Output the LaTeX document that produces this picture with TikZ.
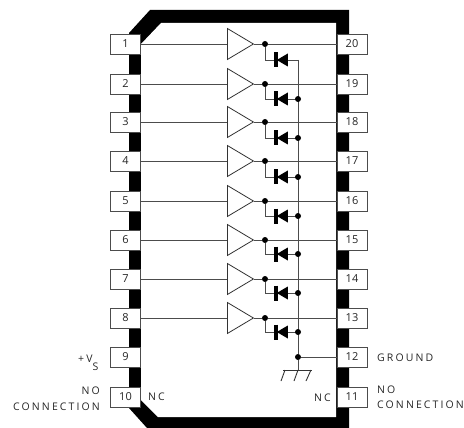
\documentclass[tikz,border=0pt]{standalone}
\usepackage{fontspec}
\setmainfont{Open Sans}
\usetikzlibrary{shapes.geometric}
\definecolor{ln}{gray}{0.3}
\tikzset{
  pinbox/.style={draw=ln,line width=0.9pt,fill=white,minimum width=30pt,minimum height=20pt,inner sep=0pt,font=\fontsize{11}{11}\selectfont,text=black!85},
  buf/.style={draw=black!80,line width=0.8pt,isosceles triangle,isosceles triangle apex angle=60,isosceles triangle stretches,minimum width=31pt,minimum height=26pt,inner sep=0pt,fill=white,anchor=lower side},
  dot/.style={circle,fill=black,inner sep=0pt,minimum size=6pt},
  wire/.style={draw=ln,line width=0.9pt},
  dtri/.style={isosceles triangle,isosceles triangle stretches,shape border rotate=180,fill=black,inner sep=0pt,minimum width=13pt,minimum height=11pt,anchor=lower side},
  lbl/.style={font=\fontsize{10.5}{12}\selectfont\addfontfeatures{LetterSpace=20},text=black!85,inner sep=0pt},
}
\begin{document}
\begin{tikzpicture}[x=1pt,y=-1pt]
\useasboundingbox (0,0) rectangle (464,428);
% package body band
\fill[black] (129,33) -- (150,10) -- (349,10) -- (349,428) -- (147,428) -- (129,408) -- cycle;
\fill[white] (141,44) -- (161,23) -- (336,23) -- (336,417) -- (158,417) -- (141,400) -- cycle;
% pins
\foreach \n/\y in {1/44,2/84,3/122,4/161,5/201,6/240,7/279,8/318,9/357,10/397}
  \node[pinbox] (p\n) at (125.5,\y) {\n};
\foreach \n/\y in {20/44,19/84,18/122,17/161,16/201,15/240,14/279,13/318,12/357,11/397}
  \node[pinbox] (p\n) at (352,\y) {\n};
% common rail
\coordinate (railtop) at (298,60);
\node[dot] (dg) at (298,357) {};
\coordinate (gnd) at (298,370);
\draw[wire] (railtop) -- (dg) -- (gnd);
\draw[wire] (dg) -- (p12.west);
% channels
\foreach \n/\o/\y/\yd in {1/20/44/60,2/19/84/99,3/18/122/138,4/17/161/177,5/16/201/216,6/15/240/254,7/14/279/293,8/13/318/332}{
  \node[buf] (b\n) at (227,\y) {};
  \node[dot] (d\n) at (265,\y) {};
  \coordinate (c\n) at (265,\yd);
  \coordinate (r\n) at (298,\yd);
  \draw[wire] (p\n.east) -- (b\n.lower side);
  \draw[wire] (b\n.apex) -- (d\n) -- (p\o.west);
  \draw[wire] (d\n) -- (c\n) -- (r\n);
  \node[dtri] (t\n) at (288,\yd) {};
  \draw[black,line width=4pt] (276,\yd-7.5) -- (276,\yd+7.5);
}
\foreach \n in {2,...,8} \node[dot] (j\n) at (r\n) {};
% ground symbol
\draw[black!80,line width=0.9pt] (283,370) -- (312,370);
\draw[black!80,line width=0.9pt] (285,370) -- (281,381) (298,370) -- (294,381) (311,370) -- (306,381);
% labels
\node[lbl,anchor=base west] (vs) at (78,362.5) {+V\raisebox{-7.5pt}{S}};
\node[lbl,anchor=east] (nl1) at (100,391) {NO};
\node[lbl,anchor=east] (nl2) at (100,407) {CONNECTION};
\node[lbl,anchor=west] (nc1) at (148,397) {NC};
\node[lbl,anchor=east] (nc2) at (331,398) {NC};
\node[lbl,anchor=west] (g) at (377,358) {GROUND};
\node[lbl,anchor=west] (nr1) at (377,390) {NO};
\node[lbl,anchor=west] (nr2) at (377,405) {CONNECTION};
\end{tikzpicture}
\end{document}
